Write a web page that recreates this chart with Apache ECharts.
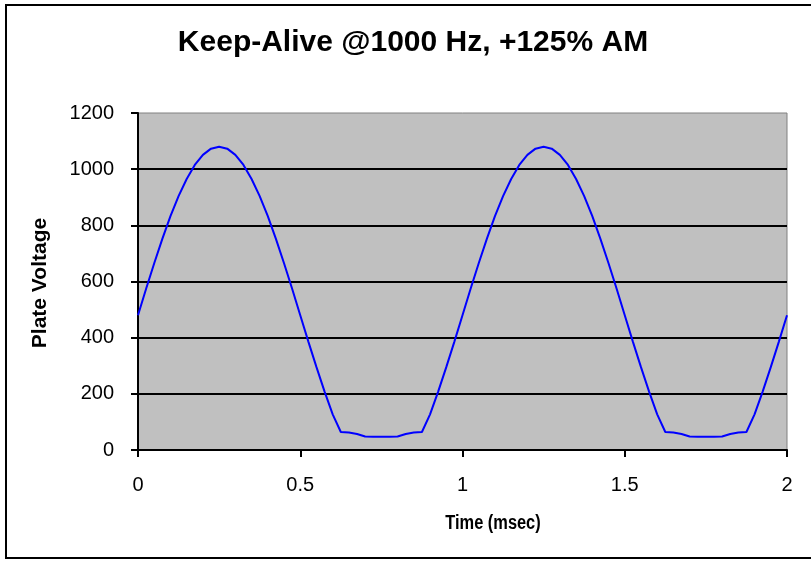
<!DOCTYPE html>
<html>
<head>
<meta charset="utf-8">
<title>Keep-Alive @1000 Hz</title>
<script src="https://cdn.jsdelivr.net/npm/echarts@6/dist/echarts.min.js"></script>
<style>
  html, body { margin: 0; padding: 0; background: #fff; }
  #chart { width: 811px; height: 561px; }
</style>
</head>
<body>
<div id="chart"></div>
<script>
  // time in msec
  var times = [
    0, 0.025, 0.05, 0.075, 0.1, 0.125, 0.15, 0.175, 0.2, 0.225,
    0.25, 0.275, 0.3, 0.325, 0.35, 0.375, 0.4, 0.425, 0.45, 0.475,
    0.5, 0.525, 0.55, 0.575, 0.6, 0.625, 0.65, 0.675, 0.7, 0.725,
    0.75, 0.775, 0.8, 0.825, 0.85, 0.875, 0.9, 0.925, 0.95, 0.975,
    1, 1.025, 1.05, 1.075, 1.1, 1.125, 1.15, 1.175, 1.2, 1.225,
    1.25, 1.275, 1.3, 1.325, 1.35, 1.375, 1.4, 1.425, 1.45, 1.475,
    1.5, 1.525, 1.55, 1.575, 1.6, 1.625, 1.65, 1.675, 1.7, 1.725,
    1.75, 1.775, 1.8, 1.825, 1.85, 1.875, 1.9, 1.925, 1.95, 1.975,
    2
  ]
  // plate voltage
  var voltage = [
    480, 574, 665, 752, 833, 904, 965, 1015, 1051, 1073,
    1080, 1073, 1051, 1015, 965, 904, 833, 752, 665, 574,
    480, 386, 295, 208, 127, 64, 62, 57, 48, 47,
    47, 47, 48, 57, 62, 64, 127, 208, 295, 386,
    480, 574, 665, 752, 833, 904, 965, 1015, 1051, 1073,
    1080, 1073, 1051, 1015, 965, 904, 833, 752, 665, 574,
    480, 386, 295, 208, 127, 64, 62, 57, 48, 47,
    47, 47, 48, 57, 62, 64, 127, 208, 295, 386,
    480
  ]
  var xTicks = [0, 0.5, 1, 1.5, 2]
  var yTicks = [0, 200, 400, 600, 800, 1000, 1200]

  var points = times.map(function (t, i) { return [t, voltage[i]] })

  var chart = echarts.init(document.getElementById('chart'))
  var option = {
    backgroundColor: '#ffffff',
    animation: false,
    textStyle: { fontFamily: '"Liberation Sans", Arial, sans-serif' },
    graphic: [
      {
        type: 'rect',
        shape: { x: 6, y: 5, width: 830, height: 553 },
        style: { fill: null, stroke: '#000', lineWidth: 2 },
        silent: true
      },
      {
        type: 'text',
        x: 413, y: 43,
        style: {
          text: 'Keep-Alive @1000 Hz, +125% AM',
          font: 'bold 30px "Liberation Sans", Arial, sans-serif',
          fill: '#000', align: 'center', verticalAlign: 'middle'
        }
      },
      {
        type: 'text',
        x: 40, y: 283, rotation: Math.PI / 2,
        style: {
          text: 'Plate Voltage',
          font: 'bold 21px "Liberation Sans", Arial, sans-serif',
          fill: '#000', align: 'center', verticalAlign: 'middle'
        }
      },
      {
        type: 'text',
        x: 493, y: 523, scaleX: 0.82,
        style: {
          text: 'Time (msec)',
          font: 'bold 20px "Liberation Sans", Arial, sans-serif',
          fill: '#000', align: 'center', verticalAlign: 'middle'
        }
      }
    ],
    grid: {
      left: 138, right: 24, top: 113, bottom: 111,
      show: true,
      backgroundColor: '#C0C0C0',
      borderColor: '#808080',
      borderWidth: 1
    },
    xAxis: {
      type: 'value',
      min: xTicks[0],
      max: xTicks[xTicks.length - 1],
      interval: 0.5,
      axisLine: { show: true, onZero: false, lineStyle: { color: '#000', width: 2 } },
      axisTick: { show: true, inside: false, length: 7, lineStyle: { color: '#000', width: 2 } },
      axisLabel: { color: '#000', fontSize: 20, margin: 25 },
      splitLine: { show: false }
    },
    yAxis: {
      type: 'value',
      min: yTicks[0],
      max: yTicks[yTicks.length - 1],
      interval: 200,
      axisLine: { show: true, lineStyle: { color: '#000', width: 2 } },
      axisTick: { show: true, inside: false, length: 7, lineStyle: { color: '#000', width: 2 } },
      axisLabel: {
        color: '#000', fontSize: 20, margin: 24,
        formatter: function (v) { return String(v) }
      },
      splitLine: { show: true, showMaxLine: false, lineStyle: { color: '#000', width: 2 } }
    },
    series: [{
      name: 'Plate Voltage',
      type: 'line',
      data: points,
      showSymbol: false,
      smooth: false,
      lineStyle: { color: '#0000FF', width: 2 },
      z: 3
    }]
  }
  chart.setOption(option)
  window.addEventListener('resize', () => {
    chart.resize()
  })
</script>
</body>
</html>
